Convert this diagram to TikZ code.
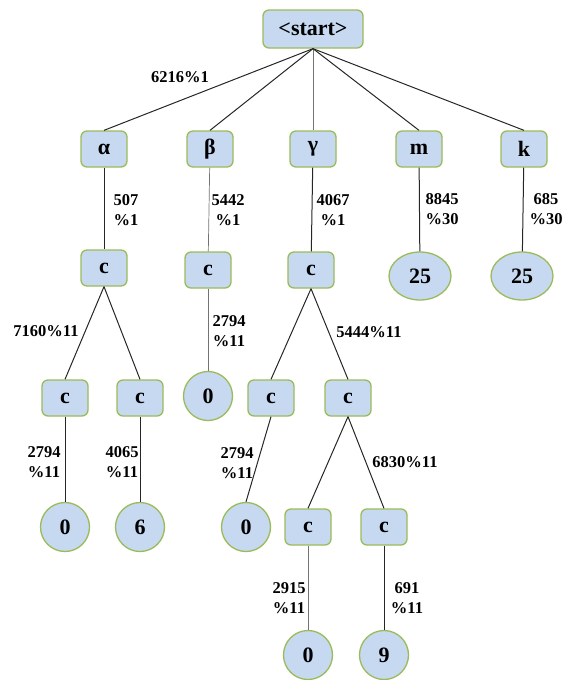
\documentclass[tikz,border=0pt]{standalone}
\usepackage{fontspec}
\setmainfont{Liberation Serif}
\usetikzlibrary{shapes.geometric}
\begin{document}
\begin{tikzpicture}[x=1pt,y=-1pt,
  box/.style={draw=nodeedge,fill=nodefill,line width=1.3pt,rounded corners=6pt,
    minimum width=46pt,minimum height=36pt,inner sep=0pt,font=\fontsize{22}{24}\selectfont\bfseries},
  leaf/.style={draw=nodeedge,fill=nodefill,line width=1.3pt,circle,minimum size=49pt,
    inner sep=0pt,font=\fontsize{22}{24}\selectfont\bfseries},
  oval/.style={draw=nodeedge,fill=nodefill,line width=1.3pt,ellipse,minimum width=62pt,
    minimum height=48pt,inner sep=0pt,font=\fontsize{22}{24}\selectfont\bfseries},
  edge/.style={line width=1pt,draw=black!85},
  thinedge/.style={line width=0.7pt,draw=black!55},
  lbl/.style={align=center,inner sep=0pt,font=\fontsize{16.5}{20.5}\selectfont\bfseries}]
\definecolor{nodefill}{HTML}{C6D9F1}
\definecolor{nodeedge}{HTML}{9BBB59}
\useasboundingbox (0,0) rectangle (571,680);

% root and first level
\node[box,minimum width=100pt,minimum height=38pt] (start) at (313,29) {<start>};
\node[box] (alpha) at (104,149) {α};
\node[box] (beta)  at (210,149) {β};
\node[box] (gamma) at (313,149) {γ};
\node[box] (m)     at (419,149) {m};
\node[box] (k)     at (524,149) {k};

% second level
\node[box]  (c1) at (104,268) {c};
\node[box]  (c2) at (208,270) {c};
\node[box]  (c3) at (311,270) {c};
\node[oval] (m25) at (420,276) {25};
\node[oval] (k25) at (522,276) {25};

% third level
\node[box]  (c4) at (65,398) {c};
\node[box]  (c5) at (140,398) {c};
\node[leaf] (z1) at (208,396) {0};
\node[box]  (c6) at (271,398) {c};
\node[box]  (c7) at (348,398) {c};

% fourth level
\node[leaf] (z2) at (65,527) {0};
\node[leaf] (s6) at (140,527) {6};
\node[leaf] (z3) at (246,527) {0};
\node[box]  (c8) at (308,527) {c};
\node[box]  (c9) at (384,527) {c};

% fifth level
\node[leaf] (z4) at (308,655) {0};
\node[leaf] (n9) at (384,655) {9};

% connectors
\draw[edge] (start.south) -- (alpha.north);
\draw[edge] (start.south) -- (beta.north);
\draw[thinedge] (start.south) -- (gamma.north);
\draw[edge] (start.south) -- (m.north);
\draw[edge] (start.south) -- (k.north);
\draw[edge] (alpha) -- (c1);
\draw[thinedge] (beta) -- (c2);
\draw[edge] (gamma) -- (c3);
\draw[edge] (m) -- (m25);
\draw[edge] (k) -- (k25);
\draw[edge] (c1.south) -- (c4.north);
\draw[edge] (c1.south) -- (c5.north);
\draw[thinedge] (c2) -- (z1);
\draw[edge] (c3.south) -- (c6.north);
\draw[edge] (c3.south) -- (c7.north);
\draw[edge] (c4) -- (z2);
\draw[edge] (c5) -- (s6);
\draw[edge] (c6.south) -- (z3.north);
\draw[edge] (c7.south) -- (c8.north);
\draw[edge] (c7.south) -- (c9.north);
\draw[thinedge] (c8) -- (z4);
\draw[edge] (c9) -- (n9);

% edge labels
\node[lbl] (l1)  at (180,77)  {6216\%1};
\node[lbl] (l2)  at (126,210) {507\\\%1};
\node[lbl] (l3)  at (228,210) {5442\\\%1};
\node[lbl] (l4)  at (333,210) {4067\\\%1};
\node[lbl] (l5)  at (442,209) {8845\\\%30};
\node[lbl] (l6)  at (546,209) {685\\\%30};
\node[lbl] (l7)  at (46,331)  {7160\%11};
\node[lbl] (l8)  at (229,331) {2794\\\%11};
\node[lbl] (l9)  at (369,332) {5444\%11};
\node[lbl] (l10) at (44,462)  {2794\\\%11};
\node[lbl] (l11) at (122,462) {4065\\\%11};
\node[lbl] (l12) at (237,463) {2794\\\%11};
\node[lbl] (l13) at (405,462) {6830\%11};
\node[lbl] (l14) at (289,598) {2915\\\%11};
\node[lbl] (l15) at (407,598) {691\\\%11};
\end{tikzpicture}
\end{document}
